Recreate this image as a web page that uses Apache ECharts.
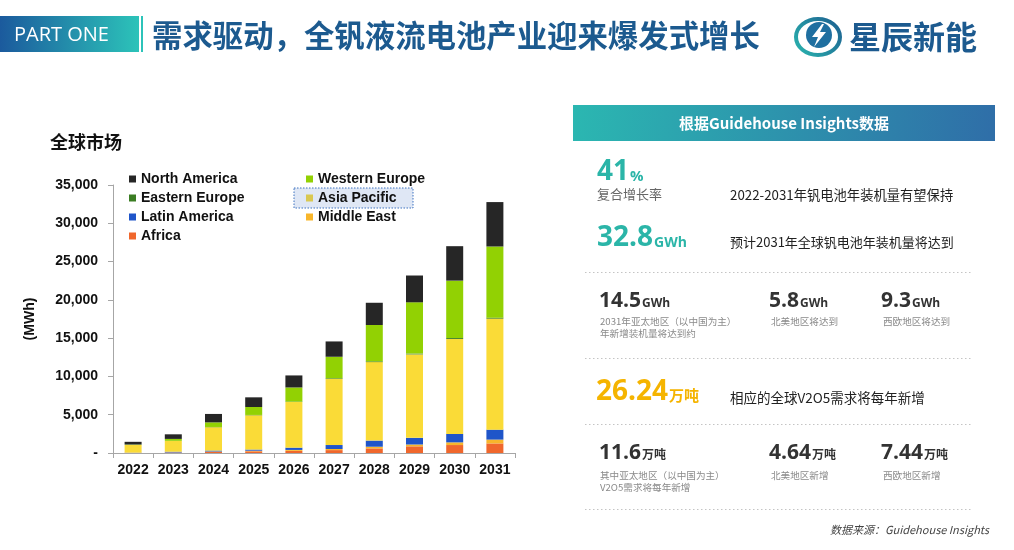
<!DOCTYPE html>
<html>
<head>
<meta charset="utf-8">
<script src="https://cdn.jsdelivr.net/npm/echarts@6/dist/echarts.min.js"></script>
<style>
html,body{margin:0;padding:0;background:#fff;}
#c{width:1014px;height:550px;}
</style>
</head>
<body>
<div id="c"></div>
<script>
// ---- data ----
var years = ['2022','2023','2024','2025','2026','2027','2028','2029','2030','2031'];
var africa        = [20, 50, 150, 220, 280, 380, 600, 870, 1040, 1250];
var middleEast    = [10, 20, 50, 80, 120, 140, 220, 240, 350, 500];
var latinAmerica  = [20, 100, 120, 150, 300, 520, 800, 870, 1100, 1300];
var asiaPacific   = [1000, 1400, 3050, 4480, 5960, 8650, 10250, 10900, 12400, 14500];
var easternEurope = [10, 20, 30, 40, 50, 80, 100, 100, 120, 120];
var westernEurope = [50, 250, 600, 1040, 1850, 2800, 4750, 6700, 7500, 9300];
var northAmerica  = [350, 600, 1100, 1260, 1570, 2000, 2900, 3500, 4500, 5800];
var yTickLabels = ['-', '5,000', '10,000', '15,000', '20,000', '25,000', '30,000', '35,000'];

var seriesDefs = [
  ['Africa', africa, '#f0672c'],
  ['Middle East', middleEast, '#f8b62b'],
  ['Latin America', latinAmerica, '#1f55c9'],
  ['Asia Pacific', asiaPacific, '#fadb37'],
  ['Eastern Europe', easternEurope, '#3b7d23'],
  ['Western Europe', westernEurope, '#92d103'],
  ['North America', northAmerica, '#262626']
];

var chart = echarts.init(document.getElementById('c'), null, {renderer: 'canvas'});
var LAT = 'Liberation Sans, Arial, sans-serif';
var CJK = '"Noto Sans CJK SC", sans-serif';
var NUM = '"Open Sans", "Noto Sans CJK SC", sans-serif';

function txt(x, y, text, font, fill, align, valign) {
  return {type: 'text', x: x, y: y, silent: true,
    style: {text: text, font: font, fill: fill, textAlign: align || 'left', textVerticalAlign: valign || 'middle'}};
}
function big(x, y, num, unit, color, nsize, usize) {
  return {type: 'text', x: x, y: y, silent: true, style: {
    text: '{n|' + num + '}{u|' + unit + '}', textVerticalAlign: 'middle',
    rich: {
      n: {fontFamily: NUM, fontWeight: 'bold', fontSize: nsize, fill: color, verticalAlign: 'bottom'},
      u: {fontFamily: NUM, fontWeight: 'bold', fontSize: usize, fill: color, verticalAlign: 'bottom', padding: [0, 0, Math.round(nsize*0.08), 1]}
    }}};
}
function dots(y) {
  return {type: 'line', silent: true, shape: {x1: 585, y1: y, x2: 973, y2: y},
    style: {stroke: '#c4c4c4', lineWidth: 1, lineDash: [1.5, 2.5]}};
}

var graphics = [
  // header
  {type: 'rect', shape: {x: 0, y: 16, width: 139, height: 36}, silent: true,
   style: {fill: new echarts.graphic.LinearGradient(0, 0, 1, 0, [{offset: 0, color: '#1b5a9d'}, {offset: 1, color: '#2cc3b9'}])}},
  txt(14, 35, 'PART ONE', '20px "Open Sans", sans-serif', '#ffffff'),
  {type: 'rect', shape: {x: 141, y: 16, width: 2, height: 36}, silent: true, style: {fill: '#2cc3b9'}},
  txt(152, 35, '需求驱动，全钒液流电池产业迎来爆发式增长', 'bold 30.4px ' + CJK, '#1c5a8f'),
  // logo
  {type: 'ellipse', shape: {cx: 818, cy: 37, rx: 22, ry: 18}, silent: true,
   style: {fill: 'none', stroke: new echarts.graphic.LinearGradient(0, 1, 1, 0, [{offset: 0, color: '#2bb9b0'}, {offset: 1, color: '#1c5a8f'}]), lineWidth: 4}},
  {type: 'circle', shape: {cx: 819, cy: 35, r: 13}, silent: true, style: {fill: '#1f6fa0'}},
  {type: 'polygon', shape: {points: [[822, 24], [812, 37], [818, 37], [814, 47], [826, 32], [820, 32], [824, 24]]}, silent: true, style: {fill: '#ffffff'}},
  txt(849, 37, '星辰新能', 'bold 32px ' + CJK, '#1c5a8f'),
  // chart title
  txt(50, 142, '全球市场', 'bold 18px ' + CJK, '#111'),
  // legend selection box
  {type: 'rect', shape: {x: 294, y: 188, width: 119, height: 20}, silent: true, z: -1,
   style: {fill: '#dfe7f5', stroke: '#3d72c0', lineWidth: 1, lineDash: [1.5, 1.5]}},
  // right panel
  {type: 'rect', shape: {x: 573, y: 105, width: 422, height: 36}, silent: true,
   style: {fill: new echarts.graphic.LinearGradient(0, 0, 1, 1, [{offset: 0, color: '#2bb7b1'}, {offset: 1, color: '#2f6ea8'}])}},
  txt(784, 123, '根据Guidehouse Insights数据', 'bold 15px ' + CJK, '#ffffff', 'center'),
  big(597, 172, '41', '%', '#2bb5a8', 28, 15),
  txt(597, 194, '复合增长率', '13px ' + CJK, '#666666'),
  txt(730, 195, '2022-2031年钒电池年装机量有望保持', '13.3px ' + CJK, '#222222'),
  big(597, 238, '32.8', 'GWh', '#2bb5a8', 28, 14),
  txt(730, 242, '预计2031年全球钒电池年装机量将达到', '13px ' + CJK, '#222222'),
  dots(272.5),
  big(599, 301, '14.5', 'GWh', '#333333', 21, 12),
  txt(600, 321, '2031年亚太地区（以中国为主）', '9.6px ' + CJK, '#8a8a8a'),
  txt(600, 333, '年新增装机量将达到约', '9.6px ' + CJK, '#8a8a8a'),
  big(769, 301, '5.8', 'GWh', '#333333', 21, 12),
  txt(771, 321, '北美地区将达到', '9.6px ' + CJK, '#8a8a8a'),
  big(881, 301, '9.3', 'GWh', '#333333', 21, 12),
  txt(883, 321, '西欧地区将达到', '9.6px ' + CJK, '#8a8a8a'),
  dots(358.5),
  big(596, 392, '26.24', '万吨', '#f5b400', 28, 15),
  txt(730, 398, '相应的全球V2O5需求将每年新增', '13.5px ' + CJK, '#222222'),
  dots(424.5),
  big(599, 453, '11.6', '万吨', '#333333', 21, 12),
  txt(600, 475, '其中亚太地区（以中国为主）', '9.6px ' + CJK, '#8a8a8a'),
  txt(600, 487, 'V2O5需求将每年新增', '9.6px ' + CJK, '#8a8a8a'),
  big(769, 453, '4.64', '万吨', '#333333', 21, 12),
  txt(771, 475, '北美地区新增', '9.6px ' + CJK, '#8a8a8a'),
  big(881, 453, '7.44', '万吨', '#333333', 21, 12),
  txt(883, 475, '西欧地区新增', '9.6px ' + CJK, '#8a8a8a'),
  dots(509.5),
  txt(989, 530, '数据来源：Guidehouse Insights', 'italic 11px ' + CJK, '#444444', 'right')
];

var legendText = {fontFamily: LAT, fontWeight: 'bold', fontSize: 14, color: '#111'};

var option = {
  animation: false,
  backgroundColor: '#ffffff',
  grid: {left: 113, right: 499, top: 185, bottom: 97, containLabel: false},
  legend: [
    {left: 129, top: 172, padding: 0, orient: 'vertical', icon: 'rect', itemWidth: 7, itemHeight: 7, itemGap: 5,
     selectedMode: false, textStyle: legendText,
     data: ['North America', 'Eastern Europe', 'Latin America', 'Africa']},
    {left: 306, top: 172, padding: 0, orient: 'vertical', icon: 'rect', itemWidth: 7, itemHeight: 7, itemGap: 5,
     selectedMode: false, textStyle: legendText,
     data: ['Western Europe', {name: 'Asia Pacific', itemStyle: {color: '#d9c851'}}, 'Middle East']}
  ],
  xAxis: {
    type: 'category', data: years,
    axisLine: {lineStyle: {color: '#a6a6a6'}},
    axisTick: {show: true, length: 5, lineStyle: {color: '#a6a6a6'}},
    axisLabel: {interval: 0, margin: 10, fontFamily: LAT, fontWeight: 'bold', fontSize: 14, color: '#111'}
  },
  yAxis: {
    type: 'value', min: 0, max: 35000, interval: 5000,
    name: '(MWh)', nameLocation: 'middle', nameRotate: 90, nameGap: 76,
    nameTextStyle: {fontFamily: LAT, fontWeight: 'bold', fontSize: 14, color: '#111'},
    axisLine: {show: true, lineStyle: {color: '#a6a6a6'}},
    axisTick: {show: true, length: 5, lineStyle: {color: '#a6a6a6'}},
    splitLine: {show: false},
    axisLabel: {margin: 15, fontFamily: LAT, fontWeight: 'bold', fontSize: 14, color: '#111',
      formatter: function (v) { return yTickLabels[Math.round(v / 5000)]; }}
  },
  series: seriesDefs.map(function (d) {
    return {name: d[0], type: 'bar', stack: 'total', data: d[1], barWidth: 17,
      itemStyle: {color: d[2]}, emphasis: {disabled: true}};
  }),
  graphic: graphics
};
chart.setOption(option);
</script>
</body>
</html>
